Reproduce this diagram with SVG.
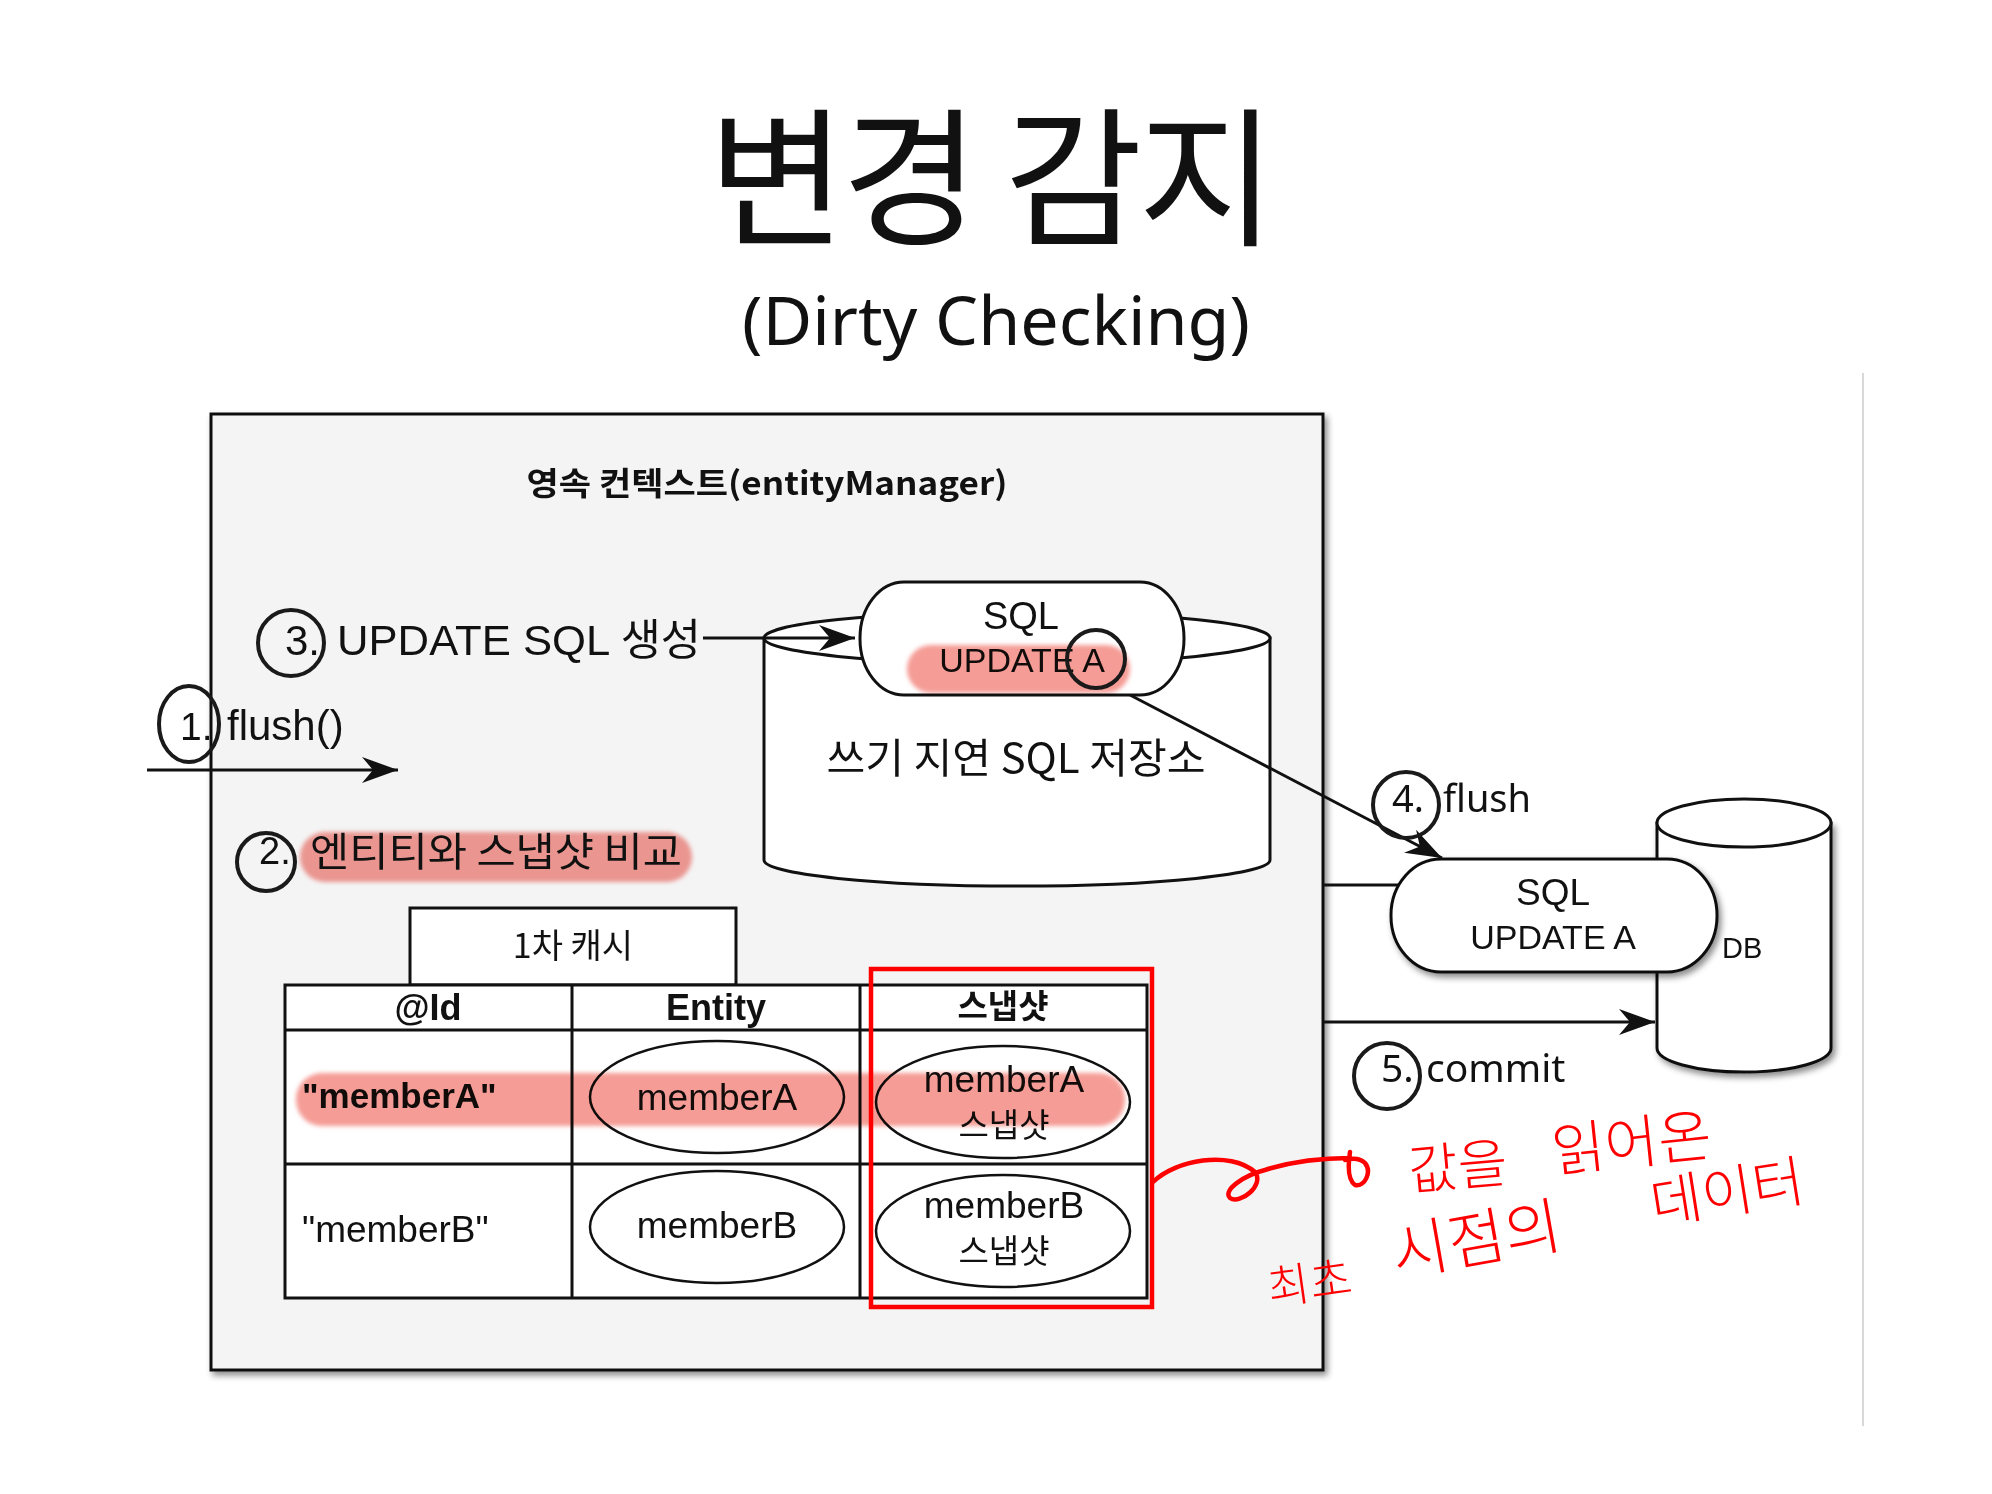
<svg xmlns="http://www.w3.org/2000/svg" width="1992" height="1494" viewBox="0 0 1992 1494">
<style>
.box{fill:#f4f4f4;stroke:#111;stroke-width:3}
.w{fill:#fff;stroke:#111;stroke-width:3}
.e{fill:#fff;stroke:#111;stroke-width:2.5}
.num{fill:none;stroke:#1a1a1a;stroke-width:4}
.hl{fill:#f59c96;mix-blend-mode:multiply}
.ln{fill:none;stroke:#111;stroke-width:3}
.t{font-family:'Liberation Sans','Noto Sans CJK KR',Arial,sans-serif;fill:#111}
.k{font-family:'Noto Sans CJK KR',sans-serif;fill:#111}
.n{font-family:'Noto Sans','Noto Sans CJK KR',sans-serif;fill:#111}
.hw{font-family:'Noto Sans CJK KR',sans-serif;fill:#ff0000;font-weight:300}
.red{fill:none;stroke:#ff0000;stroke-width:4.5;stroke-linecap:round;stroke-linejoin:round}
</style>
<defs>
<filter id="sh" x="-10%" y="-10%" width="130%" height="130%">
<feDropShadow dx="3" dy="4" stdDeviation="3" flood-color="#000" flood-opacity="0.45"/>
</filter>
<filter id="blur" x="-5%" y="-30%" width="110%" height="160%">
<feGaussianBlur stdDeviation="2"/>
</filter>
<marker id="arr" viewBox="-40 -16 44 32" refX="0" refY="0" markerWidth="44" markerHeight="32" markerUnits="userSpaceOnUse" orient="auto">
<path d="M0,0 L-36,-13 L-25,0 L-36,13 Z" fill="#111"/>
</marker>
</defs>
<rect width="1992" height="1494" fill="#fff"/>
<line x1="1863" y1="373" x2="1863" y2="1426" stroke="#d8d8d8" stroke-width="2"/>

<g id="title">
<text x="992" y="234" class="k" font-size="150" text-anchor="middle" textLength="568" lengthAdjust="spacing">변경 감지</text>
<text x="996" y="345" class="n" font-size="67" text-anchor="middle" textLength="508" lengthAdjust="spacingAndGlyphs">(Dirty Checking)</text>
</g>

<g id="persistence-context">
<rect x="211" y="414" width="1112" height="956" class="box" filter="url(#sh)"/>
<text x="767" y="495" class="k" font-size="32" font-weight="bold" text-anchor="middle" textLength="481" lengthAdjust="spacingAndGlyphs">영속 컨텍스트(entityManager)</text>
</g>

<g id="write-behind-store">
<path d="M764,638 L764,860 A253,26 0 0 0 1270,860 L1270,638 Z" class="w"/>
<ellipse cx="1017" cy="638" rx="253" ry="26" class="w"/>
<text x="1016" y="773" class="k" font-size="41" text-anchor="middle" textLength="379" lengthAdjust="spacingAndGlyphs">쓰기 지연 SQL 저장소</text>
</g>

<g id="sql-pill-1">
<rect x="860" y="582" width="324" height="113" rx="44" ry="56" class="w"/>
<text x="1021" y="629" class="t" font-size="38" text-anchor="middle">SQL</text>
<text x="1022" y="672" class="t" font-size="34" text-anchor="middle">UPDATE A</text>
<rect x="907" y="645" width="223" height="48" rx="24" class="hl" filter="url(#blur)"/>
<circle cx="1096" cy="659" r="29" class="num"/>
</g>

<g id="step-1">
<ellipse cx="189" cy="724" rx="30" ry="38" class="num"/>
<text x="180" y="740" class="t" font-size="39">1.</text>
<text x="227" y="740" class="t" font-size="42">flush()</text>
</g>

<g id="step-2">
<rect x="300" y="832" width="392" height="50" rx="25" class="hl" filter="url(#blur)"/>
<circle cx="266" cy="862" r="29" class="num"/>
<text x="259" y="864" class="t" font-size="38">2.</text>
<text x="310" y="866" class="k" font-size="40" textLength="372" lengthAdjust="spacingAndGlyphs">엔티티와 스냅샷 비교</text>
</g>

<g id="step-3">
<circle cx="291" cy="643" r="33" class="num"/>
<text x="285" y="655" class="t" font-size="42">3.</text>
<text x="337" y="655" class="t" font-size="43" textLength="364" lengthAdjust="spacingAndGlyphs">UPDATE SQL 생성</text>
</g>

<g id="first-level-cache">
<rect x="410" y="908" width="326" height="77" class="w"/>
<text x="573" y="958" class="k" font-size="34" text-anchor="middle">1차 캐시</text>
<rect x="285" y="985" width="862" height="313" class="w"/>
<line x1="285" y1="1030" x2="1147" y2="1030" class="ln"/>
<line x1="285" y1="1164" x2="1147" y2="1164" class="ln"/>
<line x1="572" y1="985" x2="572" y2="1298" class="ln"/>
<line x1="860" y1="985" x2="860" y2="1298" class="ln"/>
<text x="428" y="1020" class="t" font-size="36" font-weight="bold" text-anchor="middle">@Id</text>
<text x="716" y="1020" class="t" font-size="36" font-weight="bold" text-anchor="middle">Entity</text>
<text x="1003" y="1018" class="k" font-size="33" font-weight="bold" text-anchor="middle">스냅샷</text>
<ellipse cx="717" cy="1097" rx="127" ry="56" class="e"/>
<ellipse cx="717" cy="1227" rx="127" ry="56" class="e"/>
<ellipse cx="1003" cy="1102" rx="127" ry="56" class="e"/>
<ellipse cx="1003" cy="1231" rx="127" ry="56" class="e"/>
<text x="302" y="1108" class="t" font-size="35" font-weight="bold">"memberA"</text>
<text x="302" y="1242" class="t" font-size="37">"memberB"</text>
<text x="717" y="1110" class="t" font-size="37" text-anchor="middle">memberA</text>
<text x="717" y="1238" class="t" font-size="37" text-anchor="middle">memberB</text>
<text x="1004" y="1092" class="t" font-size="37" text-anchor="middle">memberA</text>
<text x="1004" y="1137" class="k" font-size="33" text-anchor="middle">스냅샷</text>
<text x="1004" y="1218" class="t" font-size="37" text-anchor="middle">memberB</text>
<text x="1004" y="1263" class="k" font-size="33" text-anchor="middle">스냅샷</text>
<rect x="296" y="1073" width="829" height="53" rx="26" class="hl" filter="url(#blur)"/>
</g>

<g id="db">
<path d="M1657,823 L1657,1048 A87,24 0 0 0 1831,1048 L1831,823 Z" class="w" filter="url(#sh)"/>
<ellipse cx="1744" cy="823" rx="87" ry="24" class="w"/>
<text x="1722" y="958" class="t" font-size="29">DB</text>
</g>

<g id="connectors">
<line x1="147" y1="770" x2="398" y2="770" class="ln" marker-end="url(#arr)"/>
<line x1="703" y1="638" x2="855" y2="638" class="ln" marker-end="url(#arr)"/>
<line x1="1130" y1="695" x2="1442" y2="858" class="ln" stroke-width="2.5" marker-end="url(#arr)"/>
<line x1="1323" y1="885" x2="1400" y2="885" class="ln"/>
<line x1="1323" y1="1022" x2="1655" y2="1022" class="ln" marker-end="url(#arr)"/>
</g>

<g id="sql-pill-2">
<rect x="1391" y="859" width="326" height="113" rx="50" ry="56" class="w" filter="url(#sh)"/>
<text x="1553" y="905" class="t" font-size="37" text-anchor="middle">SQL</text>
<text x="1553" y="949" class="t" font-size="34" text-anchor="middle">UPDATE A</text>
</g>

<g id="step-4">
<circle cx="1406" cy="805" r="33" class="num"/>
<text x="1392" y="812" class="n" font-size="38">4.</text>
<text x="1443" y="812" class="n" font-size="38">flush</text>
</g>

<g id="step-5">
<circle cx="1387" cy="1076" r="33" class="num"/>
<text x="1381" y="1082" class="n" font-size="39">5.</text>
<text x="1426" y="1082" class="n" font-size="39">commit</text>
</g>

<g id="snapshot-annotation">
<rect x="871" y="969" width="281" height="338" fill="none" stroke="#ff0000" stroke-width="4.5"/>
<path class="red" d="M1153,1182 C1175,1160 1230,1150 1255,1172 C1265,1185 1240,1205 1230,1198 C1222,1190 1245,1175 1265,1170 C1290,1162 1320,1158 1350,1158 M1350,1152 C1348,1165 1348,1180 1355,1185 C1365,1187 1372,1172 1365,1163 C1360,1158 1352,1158 1345,1160"/>
<text class="hw" font-size="54" transform="translate(1410,1190) rotate(-5)">값을</text>
<text class="hw" font-size="58" transform="translate(1554,1172) rotate(-6)">읽어온</text>
<text class="hw" font-size="56" transform="translate(1654,1224) rotate(-9)">데이터</text>
<text class="hw" font-size="46" transform="translate(1270,1305) rotate(-8)">최초</text>
<text class="hw" font-size="62" transform="translate(1396,1276) rotate(-10)">시점의</text>
</g>
</svg>
